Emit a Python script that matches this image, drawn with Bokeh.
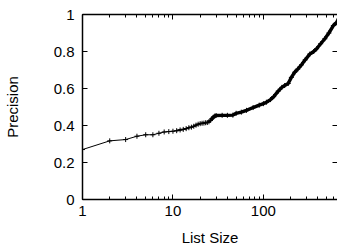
from bokeh.plotting import figure
from bokeh.models import Range1d, LogAxis, LinearAxis, LogTicker, FixedTicker, ColumnDataSource
from bokeh.embed import file_html
from bokeh.resources import INLINE

list_size = [1, 2, 3, 4, 5, 6, 7, 8, 9, 10, 11, 12, 13, 14, 15, 16, 17, 18, 19, 20,
             21, 22, 23, 24, 25, 26, 27, 28, 29, 30, 35, 40, 46, 50, 57, 65, 77, 90,
             100, 108, 120, 130, 146, 160, 172, 188, 204, 222, 240, 264, 290, 326,
             360, 388, 430, 478, 530, 594, 640, 680]
precision = [0.27, 0.317, 0.324, 0.342, 0.35, 0.35, 0.358, 0.365, 0.367, 0.369,
             0.372, 0.376, 0.379, 0.383, 0.388, 0.391, 0.396, 0.402, 0.407, 0.41,
             0.412, 0.413, 0.415, 0.416, 0.42, 0.428, 0.437, 0.445, 0.451, 0.454,
             0.455, 0.455, 0.456, 0.466, 0.472, 0.482, 0.497, 0.51, 0.518, 0.526,
             0.54, 0.556, 0.586, 0.606, 0.616, 0.627, 0.66, 0.688, 0.705, 0.728,
             0.755, 0.786, 0.80, 0.815, 0.842, 0.869, 0.90, 0.94, 0.955, 0.975]
x_ticks = [1, 10, 100]
x_labels = {1: "1", 10: "10", 100: "100"}
y_ticks = [0, 0.2, 0.4, 0.6, 0.8, 1]
y_labels = {0: "0", 0.2: "0.2", 0.4: "0.4", 0.6: "0.6", 0.8: "0.8", 1: "1"}

FONT = "Liberation Sans"

src = ColumnDataSource(dict(x=list_size, y=precision))
dense = ColumnDataSource(dict(x=[a for a in list_size if a >= 26],
                              y=[b for a, b in zip(list_size, precision) if a >= 26]))
mid = ColumnDataSource(dict(x=[a for a in list_size if 11 <= a <= 27],
                            y=[b for a, b in zip(list_size, precision) if 11 <= a <= 27]))

p = figure(width=337, height=249, x_axis_type="log", x_axis_location=None, y_axis_location=None,
           x_range=Range1d(1, 660), y_range=Range1d(0, 1),
           output_backend="svg", toolbar_location=None,
           min_border_left=82, min_border_right=0, min_border_top=14, min_border_bottom=50)
p.outline_line_color = None
p.xgrid.visible = False
p.ygrid.visible = False
p.background_fill_color = "white"
p.border_fill_color = "white"

p.line("x", "y", source=src, line_color="black", line_width=1)
p.scatter("x", "y", source=src, marker="cross", size=5, line_color="black", line_width=1)
p.line("x", "y", source=mid, line_color="black", line_width=1.8)
p.line("x", "y", source=dense, line_color="black", line_width=3.4)

def style(ax, labels=True):
    ax.major_tick_in = 5
    ax.major_tick_out = 0
    ax.minor_tick_in = 3
    ax.minor_tick_out = 0
    ax.axis_line_color = "black"
    ax.axis_line_width = 1.5
    ax.major_tick_line_color = "black"
    ax.minor_tick_line_color = "black"
    ax.major_label_text_font = FONT
    ax.major_label_text_font_size = "15px"
    ax.major_label_text_color = "black"
    ax.axis_label_text_font = FONT
    ax.axis_label_text_font_size = "15px"
    ax.axis_label_text_font_style = "normal"
    ax.axis_label_text_color = "black"
    if not labels:
        ax.major_label_text_font_size = "1px"
        ax.major_label_text_color = None
        ax.major_label_standoff = 0

xb = LogAxis(ticker=LogTicker(desired_num_ticks=3, num_minor_ticks=10), axis_label="List Size",
             major_label_overrides=x_labels)
style(xb)
xb.major_label_standoff = 6
xb.axis_label_standoff = 10
p.add_layout(xb, "below")

xt = LogAxis(ticker=LogTicker(desired_num_ticks=3, num_minor_ticks=10))
style(xt, labels=False)
p.add_layout(xt, "above")

yl = LinearAxis(ticker=FixedTicker(ticks=y_ticks), axis_label="Precision",
                major_label_overrides=y_labels)
style(yl)
yl.minor_tick_line_color = None
yl.major_label_standoff = 8
yl.axis_label_standoff = 30
p.add_layout(yl, "left")

yr = LinearAxis(ticker=FixedTicker(ticks=y_ticks))
style(yr, labels=False)
yr.axis_line_color = None
yr.minor_tick_line_color = None
p.add_layout(yr, "right")

open("out.html", "w").write(file_html(p, INLINE))
